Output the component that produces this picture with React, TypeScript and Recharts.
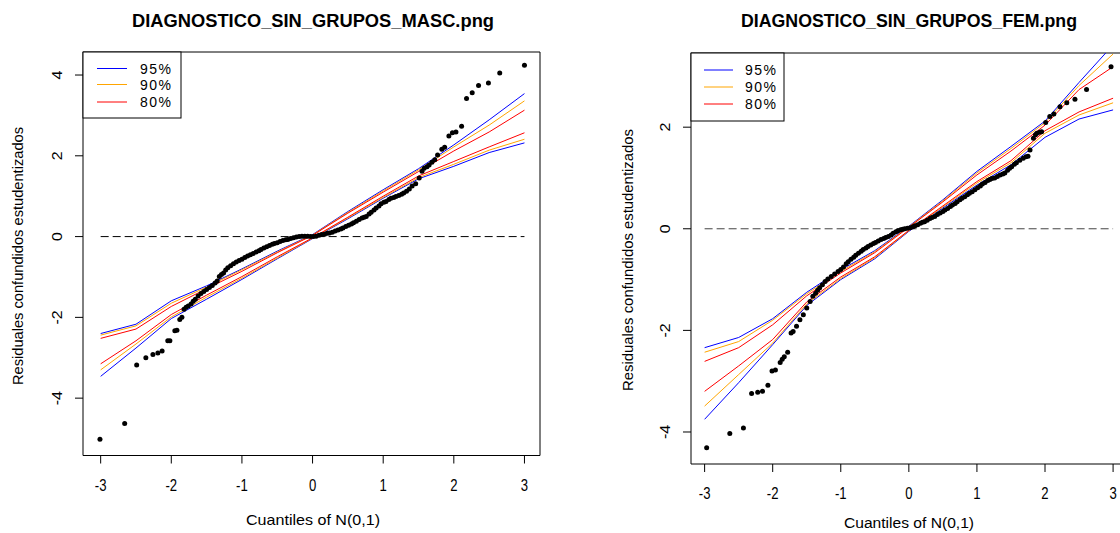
import React from 'react';
import { ComposedChart, XAxis, YAxis, Scatter, Line, ReferenceLine, ReferenceArea } from 'recharts';

// ---------- data ----------
const xTicks = [-3, -2, -1, 0, 1, 2, 3];
const mascYTicks = [-4, -2, 0, 2, 4];
const femYTicks = [-4, -2, 0, 2];

const mascTitle = 'DIAGNOSTICO_SIN_GRUPOS_MASC.png';
const femTitle = 'DIAGNOSTICO_SIN_GRUPOS_FEM.png';
const xLabel = 'Cuantiles of N(0,1)';
const yLabel = 'Residuales confundidos estudentizados';

const legendLabels = ['95%', '90%', '80%'];
const legendColors = ['#0000ff', '#ffa500', '#ff0000'];

const mascQuantiles = [
  -3.01, -2.66, -2.49, -2.36, -2.26, -2.19, -2.13, -2.05, -2.02, -1.95, -1.92, -1.88, -1.85, -1.82, -1.79, -1.76,
  -1.72, -1.69, -1.66, -1.62, -1.58, -1.54, -1.5, -1.46, -1.42, -1.38, -1.35, -1.32, -1.29, -1.26, -1.23, -1.2,
  -1.16, -1.12, -1.08, -1.04, -1.0, -0.96, -0.92, -0.88, -0.84, -0.8, -0.76, -0.73, -0.69, -0.65, -0.61, -0.57,
  -0.54, -0.5, -0.46, -0.42, -0.38, -0.35, -0.31, -0.27, -0.23, -0.19, -0.15, -0.11, -0.07, -0.03, 0.01, 0.05,
  0.09, 0.13, 0.17, 0.21, 0.24, 0.28, 0.32, 0.36, 0.4, 0.43, 0.47, 0.51, 0.55, 0.58, 0.62, 0.66, 0.7, 0.73, 0.76,
  0.8, 0.83, 0.87, 0.9, 0.94, 0.97, 1.01, 1.04, 1.08, 1.11, 1.15, 1.18, 1.22, 1.26, 1.29, 1.33, 1.37, 1.41, 1.46,
  1.51, 1.55, 1.58, 1.62, 1.65, 1.69, 1.73, 1.77, 1.83, 1.87, 1.93, 1.98, 2.03, 2.11, 2.18, 2.26, 2.35, 2.49, 2.65, 3.0,
];
const mascResiduals = [
  -5.02, -4.63, -3.18, -3.0, -2.92, -2.88, -2.83, -2.58, -2.58, -2.33, -2.32, -2.05, -2.0, -1.8, -1.75, -1.72,
  -1.67, -1.6, -1.55, -1.47, -1.41, -1.36, -1.31, -1.26, -1.21, -1.15, -1.1, -0.99, -0.94, -0.9, -0.83, -0.77,
  -0.72, -0.67, -0.63, -0.59, -0.56, -0.52, -0.48, -0.45, -0.42, -0.38, -0.35, -0.32, -0.28, -0.25, -0.22, -0.19,
  -0.17, -0.15, -0.12, -0.1, -0.08, -0.07, -0.05, -0.03, -0.01, 0.0, 0.01, 0.01, 0.01, 0.0, 0.0, 0.01,
  0.03, 0.05, 0.06, 0.08, 0.09, 0.11, 0.14, 0.16, 0.19, 0.21, 0.25, 0.28, 0.31, 0.34, 0.38, 0.42, 0.46, 0.48, 0.5,
  0.56, 0.6, 0.66, 0.71, 0.76, 0.81, 0.85, 0.87, 0.92, 0.95, 0.97, 0.99, 1.02, 1.05, 1.08, 1.12, 1.18, 1.25, 1.31,
  1.45, 1.62, 1.69, 1.73, 1.77, 1.84, 1.9, 2.02, 2.16, 2.21, 2.49, 2.57, 2.59, 2.73, 3.42, 3.56, 3.74, 3.8, 4.05, 4.24,
];

const femQuantiles = [
  -2.97, -2.63, -2.43, -2.31, -2.22, -2.15, -2.07, -2.01, -1.96, -1.89, -1.86, -1.83, -1.78, -1.73, -1.7, -1.65,
  -1.6, -1.55, -1.5, -1.45, -1.41, -1.37, -1.34, -1.31, -1.27, -1.23, -1.19, -1.14, -1.09, -1.04, -1.0, -0.96,
  -0.92, -0.89, -0.85, -0.81, -0.78, -0.74, -0.7, -0.67, -0.63, -0.6, -0.56, -0.52, -0.49, -0.45, -0.41, -0.37,
  -0.34, -0.3, -0.26, -0.23, -0.19, -0.16, -0.12, -0.09, -0.06, -0.02, 0.02, 0.06, 0.09, 0.13, 0.17, 0.2, 0.23,
  0.27, 0.31, 0.34, 0.38, 0.42, 0.46, 0.5, 0.53, 0.57, 0.61, 0.64, 0.68, 0.71, 0.75, 0.78, 0.82, 0.86, 0.89, 0.93,
  0.97, 1.01, 1.05, 1.08, 1.12, 1.16, 1.19, 1.22, 1.26, 1.3, 1.34, 1.38, 1.41, 1.45, 1.48, 1.51, 1.55, 1.58, 1.63,
  1.68, 1.72, 1.75, 1.78, 1.83, 1.86, 1.88, 1.92, 1.95, 2.01, 2.07, 2.13, 2.22, 2.32, 2.44, 2.61, 2.97,
];
const femResiduals = [
  -4.31, -4.03, -3.92, -3.24, -3.22, -3.2, -3.08, -2.8, -2.78, -2.63, -2.57, -2.52, -2.43, -2.05, -2.02, -1.92,
  -1.79, -1.69, -1.56, -1.43, -1.33, -1.27, -1.21, -1.16, -1.1, -1.04, -0.99, -0.94, -0.89, -0.84, -0.8, -0.75,
  -0.69, -0.65, -0.6, -0.56, -0.52, -0.48, -0.44, -0.41, -0.38, -0.35, -0.32, -0.29, -0.27, -0.24, -0.21, -0.19,
  -0.17, -0.15, -0.12, -0.09, -0.06, -0.04, -0.02, -0.01, 0.0, 0.01, 0.02, 0.04, 0.06, 0.08, 0.11, 0.13, 0.14,
  0.17, 0.2, 0.22, 0.24, 0.28, 0.31, 0.34, 0.37, 0.4, 0.44, 0.47, 0.5, 0.53, 0.57, 0.6, 0.63, 0.67, 0.7, 0.73,
  0.77, 0.81, 0.84, 0.88, 0.91, 0.95, 0.97, 0.99, 1.0, 1.03, 1.06, 1.08, 1.1, 1.15, 1.19, 1.22, 1.27, 1.3, 1.35,
  1.39, 1.42, 1.43, 1.55, 1.78, 1.85, 1.88, 1.9, 1.91, 2.09, 2.21, 2.26, 2.4, 2.48, 2.55, 2.74, 3.19,
];

const envelopeX = [-3, -2.5, -2, -1.5, -1, -0.5, 0, 0.5, 1, 1.5, 2, 2.5, 3];

const mascUpper95 = [-2.4, -2.17, -1.59, -1.22, -0.8, -0.36, 0.05, 0.62, 1.16, 1.68, 2.27, 2.89, 3.54];
const mascUpper90 = [-2.44, -2.21, -1.65, -1.25, -0.82, -0.38, 0.04, 0.6, 1.13, 1.65, 2.22, 2.76, 3.36];
const mascUpper80 = [-2.52, -2.29, -1.73, -1.29, -0.86, -0.4, 0.03, 0.58, 1.1, 1.61, 2.12, 2.59, 3.13];
const mascLower80 = [-3.15, -2.58, -1.93, -1.45, -0.99, -0.5, -0.03, 0.48, 1.0, 1.5, 1.86, 2.22, 2.57];
const mascLower90 = [-3.3, -2.66, -1.99, -1.5, -1.03, -0.53, -0.04, 0.46, 0.97, 1.46, 1.79, 2.14, 2.41];
const mascLower95 = [-3.46, -2.76, -2.03, -1.55, -1.06, -0.55, -0.05, 0.44, 0.95, 1.43, 1.74, 2.08, 2.32];

const femUpper95 = [-2.34, -2.14, -1.77, -1.25, -0.81, -0.43, 0.05, 0.57, 1.13, 1.62, 2.12, 2.88, 3.62];
const femUpper90 = [-2.43, -2.22, -1.8, -1.28, -0.84, -0.45, 0.04, 0.55, 1.1, 1.58, 2.09, 2.82, 3.44];
const femUpper80 = [-2.61, -2.34, -1.89, -1.32, -0.87, -0.47, 0.03, 0.53, 1.06, 1.53, 2.04, 2.74, 3.19];
const femLower80 = [-3.2, -2.7, -2.18, -1.44, -0.95, -0.55, -0.03, 0.45, 0.93, 1.34, 1.93, 2.3, 2.57];
const femLower90 = [-3.49, -2.87, -2.25, -1.48, -0.98, -0.57, -0.04, 0.43, 0.9, 1.3, 1.88, 2.24, 2.48];
const femLower95 = [-3.75, -3.03, -2.28, -1.51, -1.0, -0.59, -0.05, 0.41, 0.86, 1.26, 1.8, 2.16, 2.34];

// ---------- helpers ----------
const FONT = "Arial, 'Liberation Sans', sans-serif";

const toPoints = (xs: number[], ys: number[]) => xs.map((x, i) => ({ x, y: ys[i] }));
const toEnvelope = (u95: number[], u90: number[], u80: number[], l80: number[], l90: number[], l95: number[]) =>
  envelopeX.map((x, i) => ({ x, u95: u95[i], u90: u90[i], u80: u80[i], l80: l80[i], l90: l90[i], l95: l95[i] }));

const mascPoints = toPoints(mascQuantiles, mascResiduals);
const femPoints = toPoints(femQuantiles, femResiduals);
const mascEnvelope = toEnvelope(mascUpper95, mascUpper90, mascUpper80, mascLower80, mascLower90, mascLower95);
const femEnvelope = toEnvelope(femUpper95, femUpper90, femUpper80, femLower80, femLower90, femLower95);

const Dot = (props: any) => <circle cx={props.cx} cy={props.cy} r={2.5} fill="#000" />;

const XTick = (props: any) => {
  const { x, y, payload } = props;
  return (
    <text transform={`translate(${x},${y + 25}) scale(0.82,1)`} textAnchor="middle" fontSize={16} fontFamily={FONT} fill="#000">
      {payload.value}
    </text>
  );
};

const YTick = (props: any) => {
  const { x, y, payload } = props;
  return (
    <text transform={`translate(${x - 11},${y}) rotate(-90) scale(1,0.88)`} textAnchor="middle" fontSize={16} fontFamily={FONT} fill="#000">
      {payload.value}
    </text>
  );
};

type PanelProps = {
  left: number;
  width: number;
  margin: { top: number; right: number; bottom: number; left: number };
  xDomain: [number, number];
  yDomain: [number, number];
  yTicks: number[];
  points: { x: number; y: number }[];
  envelope: any[];
  zeroColor: string;
};

const envelopeKeys = [
  { key: 'u95', color: legendColors[0] },
  { key: 'l95', color: legendColors[0] },
  { key: 'u90', color: legendColors[1] },
  { key: 'l90', color: legendColors[1] },
  { key: 'u80', color: legendColors[2] },
  { key: 'l80', color: legendColors[2] },
];

function Panel({ left, width, margin, xDomain, yDomain, yTicks, points, envelope, zeroColor }: PanelProps) {
  return (
    <div style={{ position: 'absolute', left, top: 0, width, height: 533 }}>
      <ComposedChart width={width} height={533} margin={margin}>
        <XAxis
          type="number"
          dataKey="x"
          domain={xDomain}
          ticks={xTicks}
          interval={0}
          allowDataOverflow
          axisLine={false}
          tickSize={8}
          tickLine={{ stroke: '#000' }}
          tick={(p: any) => <XTick {...p} />}
          height={40}
        />
        <YAxis
          type="number"
          dataKey="y"
          domain={yDomain}
          ticks={yTicks}
          interval={0}
          allowDataOverflow
          axisLine={false}
          tickSize={8}
          tickLine={{ stroke: '#000' }}
          tick={(p: any) => <YTick {...p} />}
          width={40}
        />
        <ReferenceArea
          x1={xDomain[0]}
          x2={xDomain[1]}
          y1={yDomain[0]}
          y2={yDomain[1]}
          fill="none"
          stroke="#000"
          strokeWidth={1}
          ifOverflow="visible"
        />
        <ReferenceLine
          segment={[
            { x: -3, y: 0 },
            { x: 3, y: 0 },
          ]}
          stroke={zeroColor}
          strokeDasharray="8 4"
          strokeWidth={1}
        />
        <Scatter data={points} dataKey="y" fill="#000" shape={Dot} isAnimationActive={false} />
        {envelopeKeys.map((k) => (
          <Line
            key={k.key}
            data={envelope}
            dataKey={k.key}
            type="linear"
            stroke={k.color}
            strokeWidth={1}
            dot={false}
            activeDot={false}
            isAnimationActive={false}
          />
        ))}
      </ComposedChart>
    </div>
  );
}

function LegendBox({ x, y, w, h, rowY, lineX1, lineX2, textX }: { x: number; y: number; w: number; h: number; rowY: number[]; lineX1: number; lineX2: number; textX: number }) {
  return (
    <g>
      <rect x={x} y={y} width={w} height={h} fill="#fff" stroke="#000" strokeWidth={1} />
      {legendLabels.map((lab, i) => (
        <g key={lab}>
          <line x1={lineX1} x2={lineX2} y1={rowY[i]} y2={rowY[i]} stroke={legendColors[i]} strokeWidth={1} />
          <text x={textX} y={rowY[i] + 5} fontSize={14} fontFamily={FONT} fill="#000" textLength={31} lengthAdjust="spacing">
            {lab}
          </text>
        </g>
      ))}
    </g>
  );
}

export default function App() {
  return (
    <div style={{ position: 'absolute', left: 0, top: 0, width: 1120, height: 533, overflow: 'hidden', background: '#fff' }}>
      <Panel
        left={0}
        width={560}
        margin={{ top: 52, right: 20, bottom: 37.5, left: 43 }}
        xDomain={[-3.25, 3.22]}
        yDomain={[-5.42, 4.57]}
        yTicks={mascYTicks}
        points={mascPoints}
        envelope={mascEnvelope}
        zeroColor="#000"
      />
      <Panel
        left={600}
        width={540}
        margin={{ top: 53, right: 13.3, bottom: 29, left: 51 }}
        xDomain={[-3.2, 3.2]}
        yDomain={[-4.63, 3.46]}
        yTicks={femYTicks}
        points={femPoints}
        envelope={femEnvelope}
        zeroColor="#444"
      />
      <svg width={1120} height={533} style={{ position: 'absolute', left: 0, top: 0, pointerEvents: 'none' }}>
        <text x={313} y={27} textAnchor="middle" fontSize={18} fontWeight="bold" fontFamily={FONT} fill="#000" textLength={362} lengthAdjust="spacingAndGlyphs">
          {mascTitle}
        </text>
        <text x={909} y={27} textAnchor="middle" fontSize={18} fontWeight="bold" fontFamily={FONT} fill="#000" textLength={336} lengthAdjust="spacingAndGlyphs">
          {femTitle}
        </text>
        <text x={313} y={525} textAnchor="middle" fontSize={15} fontFamily={FONT} fill="#000" textLength={134} lengthAdjust="spacingAndGlyphs">
          {xLabel}
        </text>
        <text x={909} y={528} textAnchor="middle" fontSize={14} fontFamily={FONT} fill="#000" textLength={130} lengthAdjust="spacingAndGlyphs">
          {xLabel}
        </text>
        <text transform="translate(23,256) rotate(-90)" textAnchor="middle" fontSize={14} fontFamily={FONT} fill="#000" textLength={258} lengthAdjust="spacingAndGlyphs">
          {yLabel}
        </text>
        <text transform="translate(633,260) rotate(-90)" textAnchor="middle" fontSize={14} fontFamily={FONT} fill="#000" textLength={262} lengthAdjust="spacingAndGlyphs">
          {yLabel}
        </text>
        <LegendBox x={83} y={52} w={98} h={66} rowY={[68.5, 84.5, 102]} lineX1={97} lineX2={127} textX={140} />
        <LegendBox x={691} y={53} w={93} h={68} rowY={[70, 87, 104]} lineX1={704} lineX2={733} textX={745} />
      </svg>
    </div>
  );
}
